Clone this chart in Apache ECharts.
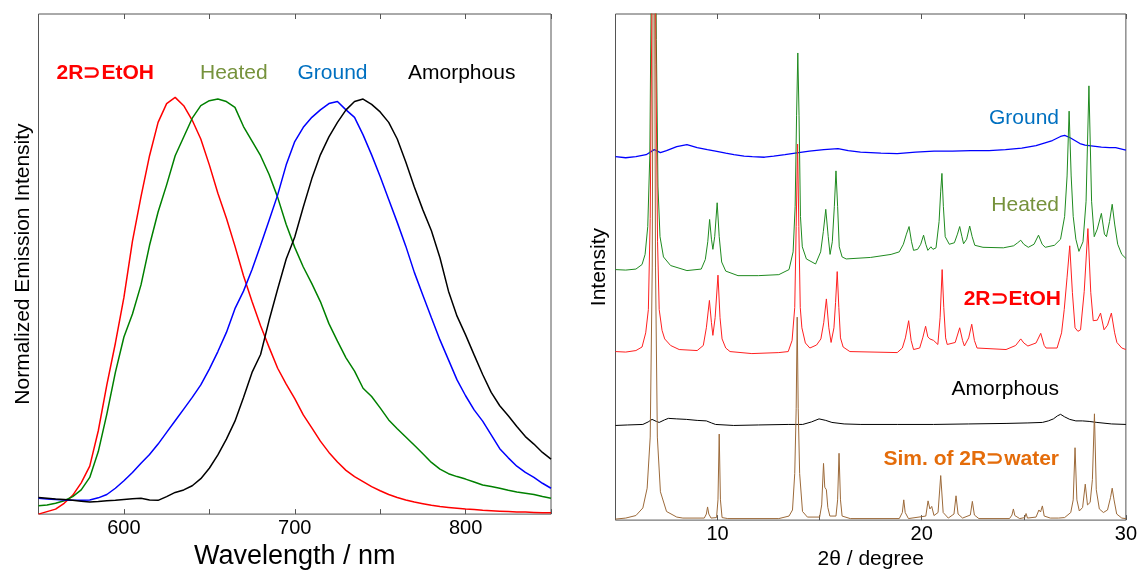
<!DOCTYPE html>
<html>
<head>
<meta charset="utf-8">
<script src="https://cdn.jsdelivr.net/npm/echarts@6/dist/echarts.min.js"></script>
<style>
html,body{margin:0;padding:0;background:#fff;}
#chart{width:1140px;height:575px;}
</style>
</head>
<body>
<div id="chart"></div>
<script>
// ---------- Left panel: emission spectra (normalized) ----------
const wavelength = [550,555,560,565,570,575,580,585,590,595,600,605,610,615,620,625,630,635,640,645,650,655,660,665,670,675,680,685,690,695,700,705,710,715,720,725,730,735,740,745,750,755,760,765,770,775,780,785,790,795,800,805,810,815,820,825,830,835,840,845,850];
const emEtOH = [0.000,0.006,0.012,0.026,0.045,0.075,0.115,0.200,0.310,0.410,0.520,0.655,0.762,0.860,0.940,0.985,1.000,0.980,0.945,0.900,0.838,0.770,0.710,0.643,0.572,0.510,0.452,0.400,0.350,0.312,0.277,0.238,0.207,0.175,0.148,0.125,0.105,0.090,0.078,0.066,0.056,0.047,0.040,0.034,0.029,0.025,0.021,0.018,0.016,0.014,0.012,0.011,0.009,0.008,0.007,0.006,0.005,0.005,0.004,0.003,0.003];
const emHeated = [0.020,0.022,0.026,0.032,0.042,0.058,0.088,0.150,0.240,0.340,0.425,0.480,0.550,0.645,0.725,0.790,0.860,0.905,0.950,0.980,0.992,0.996,0.990,0.976,0.930,0.895,0.860,0.815,0.760,0.695,0.640,0.593,0.553,0.510,0.457,0.415,0.375,0.343,0.302,0.282,0.255,0.226,0.205,0.185,0.165,0.145,0.124,0.108,0.097,0.090,0.084,0.077,0.070,0.066,0.062,0.057,0.053,0.050,0.047,0.042,0.038];
const emGround = [0.038,0.036,0.035,0.034,0.033,0.033,0.034,0.039,0.047,0.062,0.080,0.100,0.122,0.143,0.168,0.196,0.224,0.252,0.280,0.310,0.348,0.390,0.436,0.493,0.535,0.587,0.645,0.705,0.766,0.838,0.894,0.928,0.952,0.970,0.985,0.990,0.970,0.952,0.910,0.862,0.810,0.755,0.700,0.643,0.580,0.525,0.471,0.418,0.370,0.322,0.284,0.250,0.223,0.190,0.157,0.135,0.115,0.100,0.088,0.074,0.062];
const emAmorph = [0.040,0.038,0.036,0.035,0.033,0.031,0.029,0.030,0.032,0.033,0.035,0.037,0.038,0.034,0.033,0.042,0.052,0.058,0.068,0.085,0.110,0.142,0.180,0.223,0.280,0.340,0.383,0.465,0.540,0.612,0.665,0.737,0.805,0.862,0.905,0.940,0.970,0.990,0.996,0.983,0.965,0.940,0.900,0.845,0.785,0.730,0.680,0.615,0.535,0.475,0.430,0.382,0.335,0.292,0.260,0.236,0.210,0.186,0.168,0.148,0.132];

// ---------- Right panel: PXRD patterns (2theta, intensity as plotted, offsets included) ----------
const xrdGround = [[5.0,71.8],[5.5,71.6],[6.0,71.8],[6.5,72.2],[6.9,73.2],[7.2,72.6],[7.5,73.0],[8.0,73.8],[8.5,74.2],[9.0,73.6],[9.5,73.2],[9.9,72.9],[10.4,72.5],[10.8,72.2],[11.3,71.9],[11.7,71.8],[12.3,71.7],[12.75,71.9],[13.3,72.2],[13.8,72.5],[14.5,72.9],[15.2,73.2],[15.9,73.4],[16.4,73.0],[17.0,72.7],[18.0,72.5],[18.8,72.4],[19.7,72.7],[20.6,72.9],[21.5,72.9],[22.4,73.0],[23.3,73.0],[24.1,73.2],[24.9,73.5],[25.6,74.0],[26.0,74.5],[26.4,75.0],[26.8,75.8],[27.0,76.0],[27.25,75.6],[27.5,75.0],[27.75,74.4],[28.0,74.1],[28.4,73.9],[28.8,73.7],[29.2,73.6],[29.5,73.6],[30.0,73.1]];
const xrdHeated = [[5.0,49.5],[5.5,49.4],[6.0,49.6],[6.3,50.5],[6.45,52.5],[6.58,58],[6.68,72],[6.76,110],[6.88,170],[7.0,95],[7.08,66],[7.18,56],[7.35,52],[7.7,50.3],[8.5,49.3],[9.2,49.6],[9.4,51.5],[9.52,55],[9.61,59.4],[9.7,55.5],[9.77,53.5],[9.86,56],[9.98,62.7],[10.08,56],[10.2,51],[10.4,49.2],[11.0,48.3],[12.0,48.3],[13.0,48.5],[13.5,49.5],[13.7,53],[13.8,62],[13.87,80],[13.93,92.3],[13.99,80],[14.06,60],[14.15,54],[14.35,51.6],[14.8,50.6],[15.05,53],[15.18,57],[15.3,61.4],[15.42,56],[15.51,52.5],[15.62,55],[15.72,62],[15.8,69],[15.88,62],[15.96,54],[16.1,52],[16.3,51.6],[17.5,51.9],[18.5,52.5],[18.9,53],[19.1,54.5],[19.25,56.5],[19.38,58],[19.5,55],[19.6,53.3],[19.8,53.5],[19.95,54.5],[20.09,56.3],[20.2,54.5],[20.3,53.3],[20.45,54],[20.55,53.5],[20.7,53.8],[20.85,59],[20.93,65],[20.99,68.5],[21.06,62],[21.15,56],[21.35,54.5],[21.6,54.8],[21.75,56.5],[21.86,58],[21.97,56],[22.05,54.6],[22.2,55.5],[22.35,58.1],[22.47,56],[22.6,54.3],[23.0,53.9],[24.0,53.8],[24.5,54.2],[24.7,54.8],[24.85,55.3],[25.0,54.5],[25.22,53.9],[25.5,54.5],[25.72,56.3],[25.9,54.5],[26.05,53.9],[26.5,54.3],[26.8,55.5],[27.0,60],[27.12,68],[27.22,80.8],[27.32,68],[27.42,60],[27.55,55.5],[27.7,53.1],[27.9,55],[28.05,63],[28.19,85.8],[28.32,63],[28.45,56],[28.6,57.5],[28.8,60.6],[28.95,56.5],[29.05,56],[29.2,59],[29.33,62.4],[29.45,58.5],[29.6,54.5],[29.8,52.5],[30.0,51.7]];
const xrdEtOH = [[5.0,33.3],[5.5,33.2],[6.0,33.5],[6.3,34.2],[6.48,37],[6.61,41.6],[6.7,59.6],[6.78,100],[6.88,160],[6.98,90],[7.06,55],[7.14,41.6],[7.28,37.5],[7.41,35.8],[7.7,34.5],[8.12,33.7],[9.0,33.5],[9.3,34.5],[9.45,38],[9.6,43.4],[9.7,39],[9.77,36.5],[9.88,40],[10.02,48.4],[10.12,40],[10.22,35.8],[10.4,34],[10.61,33.3],[11.68,32.9],[13.0,33.1],[13.46,33.3],[13.65,35.5],[13.78,42],[13.85,58],[13.92,74.3],[13.98,58],[14.05,42],[14.13,38],[14.3,35],[14.52,34.0],[14.85,34.6],[15.06,35.8],[15.2,39],[15.33,43.7],[15.45,38],[15.56,35.1],[15.7,38],[15.78,43],[15.86,49.1],[15.94,42],[16.02,36],[16.15,34.2],[16.48,33.3],[18.8,33.1],[19.05,34],[19.2,36],[19.36,39.4],[19.48,35.5],[19.6,33.7],[19.9,34],[20.05,36],[20.19,38.3],[20.3,36.2],[20.4,35.8],[20.58,35.5],[20.79,34.7],[20.9,40],[21.0,49.5],[21.08,42],[21.17,36],[21.25,34.7],[21.64,35.1],[21.86,38.0],[22.0,35.5],[22.09,34.4],[22.3,36],[22.45,38.7],[22.58,35.5],[22.71,34.0],[24.13,33.7],[24.6,34.5],[24.85,35.8],[25.0,35.0],[25.2,34.4],[25.6,35.0],[25.83,36.9],[26.0,34.5],[26.09,34.0],[26.63,34.0],[26.85,37],[26.98,41.6],[27.12,48],[27.25,54.2],[27.38,45],[27.51,38],[27.65,37.3],[27.78,37.6],[27.96,45.2],[28.14,57.6],[28.28,45],[28.4,39.4],[28.6,39.5],[28.76,40.9],[28.93,37.6],[29.1,38.5],[29.29,40.9],[29.45,37],[29.56,35.1],[29.8,34.0],[30.0,33.7]];
const xrdAmorph = [[5.0,18.7],[5.6,18.8],[6.34,18.9],[6.6,19.4],[6.79,19.9],[7.0,19.5],[7.14,19.3],[7.4,19.8],[7.59,20.1],[8.0,20.0],[8.47,19.9],[9.0,19.7],[9.45,19.6],[9.7,19.2],[9.9,18.9],[10.79,18.7],[12.0,18.8],[13.46,18.9],[14.17,18.9],[14.6,19.4],[14.97,20.0],[15.3,19.7],[15.6,19.3],[16.2,19.0],[17.02,18.9],[18.8,18.9],[20.58,18.9],[22.3,19.0],[24.13,19.1],[25.2,19.2],[25.91,19.3],[26.2,19.6],[26.45,20.0],[26.65,20.6],[26.8,20.9],[27.0,20.4],[27.25,19.9],[27.55,19.6],[27.87,19.6],[28.2,19.5],[28.58,19.3],[29.3,19.0],[30.0,18.9]];
const xrdSim = [[5.0,0.2],[5.5,0.4],[6.0,0.9],[6.34,2.4],[6.55,6.3],[6.7,16.4],[6.8,50],[6.88,150],[6.96,50],[7.05,16.4],[7.2,5.6],[7.5,1.7],[8.0,0.6],[8.3,0.4],[9.35,0.4],[9.45,1.2],[9.51,2.6],[9.57,1.2],[9.68,0.4],[9.95,0.5],[10.02,4],[10.08,17],[10.14,4],[10.22,0.5],[10.5,0.3],[13.0,0.3],[13.5,0.8],[13.67,2.0],[13.78,9.2],[13.85,22],[13.9,40.1],[13.95,22],[14.02,9.2],[14.16,1.7],[14.4,0.6],[15.0,0.6],[15.1,3],[15.19,11.2],[15.25,6.5],[15.33,6.0],[15.4,2.5],[15.5,0.8],[15.8,0.8],[15.88,4],[15.95,13.2],[16.02,4],[16.1,0.8],[16.5,0.3],[18.9,0.3],[19.05,1.5],[19.12,4.0],[19.19,1.5],[19.35,0.3],[20.2,0.8],[20.31,3.8],[20.4,2.2],[20.49,2.7],[20.6,0.9],[20.8,1.5],[20.93,8.8],[21.05,1.5],[21.3,0.4],[21.58,1.2],[21.68,4.8],[21.78,1.2],[22.0,0.4],[22.38,1.0],[22.48,3.7],[22.58,1.0],[22.8,0.3],[24.3,0.3],[24.42,1.0],[24.49,2.2],[24.56,0.9],[24.8,0.3],[25.05,0.5],[25.11,1.3],[25.18,0.4],[25.6,0.6],[25.74,2.0],[25.82,1.6],[25.91,2.8],[26.0,0.8],[26.3,0.4],[26.7,0.4],[27.0,0.5],[27.3,1.5],[27.42,4],[27.51,14.3],[27.6,4],[27.72,1.8],[27.88,2.5],[28.01,7.1],[28.12,3],[28.25,3.5],[28.36,8],[28.46,21],[28.55,6],[28.7,2.2],[28.9,1.5],[29.1,2.0],[29.25,4.5],[29.33,6.3],[29.42,4],[29.55,1.2],[29.8,0.4],[30.0,0.3]];

const leftTicks = [600, 700, 800];
const rightTicks = [10, 20, 30];

const FONT = "'Liberation Sans', Arial, sans-serif";
const chart = echarts.init(document.getElementById('chart'), null, {renderer: 'canvas'});

function boxAxisX(gridIndex, min, max, interval, pos, labels, name, nameSize, nameGap) {
  return {
    type: 'value', gridIndex: gridIndex, position: pos, min: min, max: max, interval: interval,
    axisLine: {show: false},
    axisTick: {show: true, inside: true, length: 5, lineStyle: {color: '#555', width: 1}},
    splitLine: {show: false},
    axisLabel: {
      show: pos === 'bottom', margin: 4, fontFamily: FONT, fontSize: 20, color: '#000',
      formatter: function (v) { return labels.indexOf(v) >= 0 ? String(v) : ''; }
    },
    name: pos === 'bottom' ? name : '', nameLocation: 'middle', nameGap: nameGap,
    nameTextStyle: {fontFamily: FONT, fontSize: nameSize, color: '#000'}
  };
}
function boxAxisY(gridIndex, max, name, nameGap) {
  return {
    type: 'value', gridIndex: gridIndex, min: 0, max: max,
    axisLine: {show: false}, axisTick: {show: false}, axisLabel: {show: false}, splitLine: {show: false},
    name: name, nameLocation: 'middle', nameGap: nameGap, nameRotate: 90,
    nameTextStyle: {fontFamily: FONT, fontSize: 21, color: '#000'}
  };
}
function emSeries(vals, color) {
  return {type: 'line', xAxisIndex: 0, yAxisIndex: 0, showSymbol: false, silent: true,
    data: wavelength.map((w, i) => [w, vals[i]]),
    lineStyle: {color: color, width: 1.5}, itemStyle: {color: color}};
}
function xrdSeries(pairs, color, w) {
  return {type: 'line', xAxisIndex: 2, yAxisIndex: 1, showSymbol: false, silent: true,
    data: pairs, lineStyle: {color: color, width: w}, itemStyle: {color: color}};
}
function label(text, x, y, color, align, bold) {
  return {type: 'text', x: x, y: y, silent: true,
    style: {text: text, fill: color, font: (bold ? 'bold ' : '') + '21px ' + FONT, textAlign: align, textVerticalAlign: 'middle'}};
}

chart.setOption({
  animation: false,
  backgroundColor: '#fff',
  grid: [
    {left: 38.5, top: 14, width: 512.5, height: 507, show: true, borderColor: '#555', borderWidth: 1, backgroundColor: 'transparent'},
    {left: 615.5, top: 14, width: 512.5, height: 508, show: true, borderColor: '#555', borderWidth: 1, backgroundColor: 'transparent'}
  ],
  xAxis: [
    boxAxisX(0, 550, 850, 50, 'bottom', leftTicks, 'Wavelength / nm', 27, 23),
    boxAxisX(0, 550, 850, 50, 'top', leftTicks, '', 27, 23),
    boxAxisX(1, 5, 30, 5, 'bottom', rightTicks, '2\u03b8 / degree', 21, 28),
    boxAxisX(1, 5, 30, 5, 'top', rightTicks, '', 21, 28)
  ],
  yAxis: [
    boxAxisY(0, 1.2, 'Normalized Emission Intensity', 5),
    boxAxisY(1, 100, 'Intensity', 6)
  ],
  series: [
    emSeries(emEtOH, '#ff0000'),
    emSeries(emHeated, '#008000'),
    emSeries(emGround, '#0000ff'),
    emSeries(emAmorph, '#000000'),
    xrdSeries(xrdGround, '#0000ff', 1.3),
    xrdSeries(xrdHeated, '#1f8a1f', 1),
    xrdSeries(xrdEtOH, '#ff2020', 1),
    xrdSeries(xrdAmorph, '#000000', 1),
    xrdSeries(xrdSim, '#9c6a3a', 1)
  ],
  graphic: [
    label('2R\u2283EtOH', 56.6, 73, '#ff0000', 'left', true),
    label('Heated', 200, 73, '#76923c', 'left', false),
    label('Ground', 297.5, 73, '#0070c0', 'left', false),
    label('Amorphous', 408, 73, '#000000', 'left', false),
    label('Ground', 1059, 118, '#0070c0', 'right', false),
    label('Heated', 1059, 205, '#76923c', 'right', false),
    label('2R\u2283EtOH', 1061, 299, '#ff0000', 'right', true),
    label('Amorphous', 1059, 389, '#000000', 'right', false),
    label('Sim. of 2R\u2283water', 1059, 459, '#e46c0a', 'right', true)
  ]
});
</script>
</body>
</html>
